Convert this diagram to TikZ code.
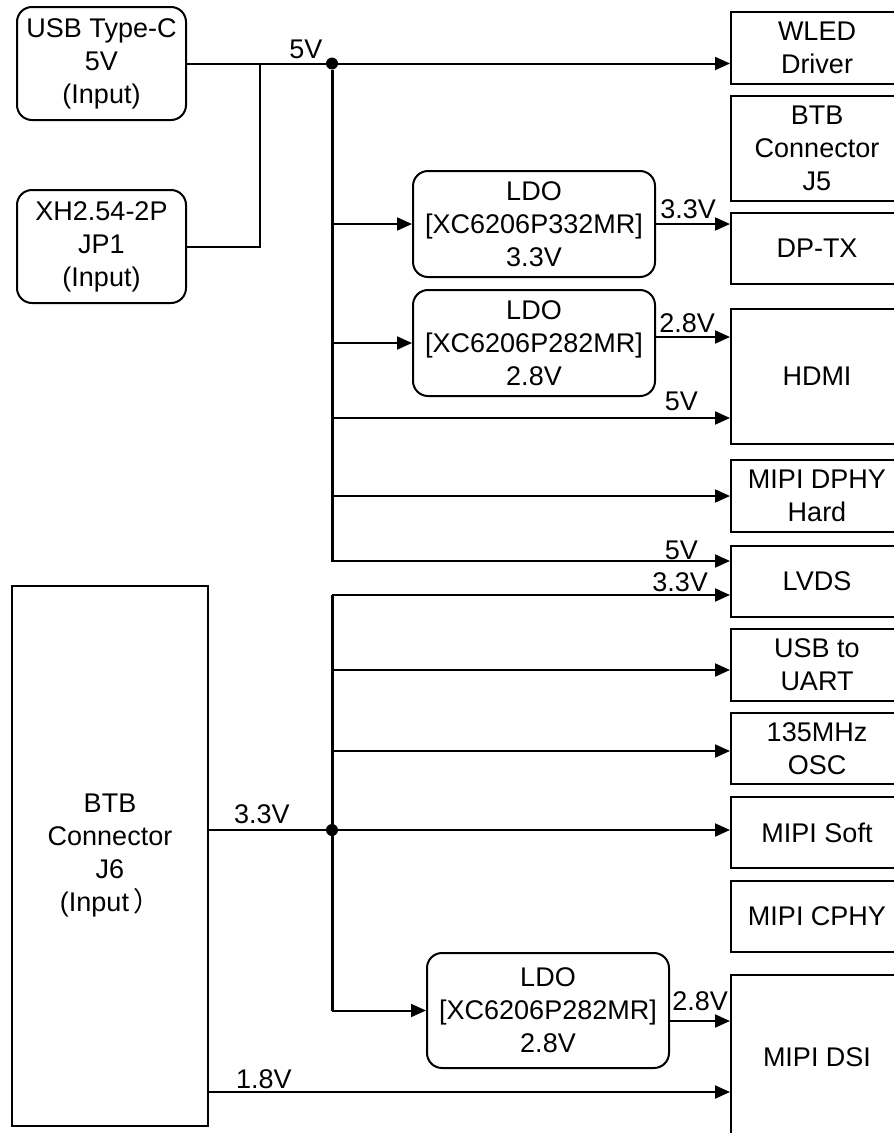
\documentclass[tikz,border=0pt]{standalone}
\usepackage{fontspec}
\setmainfont{Liberation Sans}
\newfontfamily\cjk{Noto Sans CJK SC}
\usetikzlibrary{arrows.meta, positioning, calc}

\begin{document}
\begin{tikzpicture}[
    x=1pt, y=-1pt,
    font=\fontsize{27}{33}\selectfont,
    src/.style={rectangle, draw, rounded corners=15pt, line width=2pt, align=center, inner sep=0pt},
    ldo/.style={src, minimum width=242pt},
    load/.style={rectangle, draw, line width=2pt, align=center, inner sep=0pt, minimum width=172pt},
    junction/.style={circle, fill, inner sep=0pt, minimum size=12pt},
    wire/.style={line width=2pt},
    trunk/.style={line width=3pt},
    arrow/.style={-{Triangle[length=15pt, width=13pt]}, line width=2pt},
    volt/.style={inner sep=0pt}
]
\useasboundingbox (0,0) rectangle (894,1133);

% Inputs
\node[src, minimum width=169pt, minimum height=113pt] (usb) at (101.5,63.5) {USB Type-C\\5V\\(Input)};
\node[src, minimum width=169pt, minimum height=113pt] (jp1) at (101.5,246.5) {XH2.54-2P\\JP1\\(Input)};
\node[load, minimum width=196pt, minimum height=540pt] (j6) at (110,856) {BTB\\Connector\\J6\\(Input\kern4pt{\cjk ）}};

% LDOs
\node[ldo, minimum height=106pt] (ldoA) at (534,224) {LDO\\ {[XC6206P332MR]}\\3.3V};
\node[ldo, minimum height=106pt] (ldoB) at (534,343) {LDO\\ {[XC6206P282MR]}\\2.8V};
\node[ldo, minimum height=115pt] (ldoC) at (548,1010.5) {LDO\\ {[XC6206P282MR]}\\2.8V};

% Loads
\node[load, minimum height=72pt] (wled) at (817,48) {WLED\\Driver};
\node[load, minimum height=105pt] (j5) at (817,148.5) {BTB\\Connector\\J5};
\node[load, minimum height=71pt] (dptx) at (817,248.5) {DP-TX};
\node[load, minimum height=135pt] (hdmi) at (817,376.5) {HDMI};
\node[load, minimum height=72pt] (dphy) at (817,496) {MIPI DPHY\\Hard};
\node[load, minimum height=71pt] (lvds) at (817,581.5) {LVDS};
\node[load, minimum height=72pt] (uart) at (817,665) {USB to\\UART};
\node[load, minimum height=71pt] (osc) at (817,748.5) {135MHz\\OSC};
\node[load, minimum height=71pt] (soft) at (817,832.5) {MIPI Soft};
\node[load, minimum height=71pt] (cphy) at (817,916.5) {MIPI CPHY};
\node[load, minimum height=165pt] (dsi) at (817,1057.5) {MIPI DSI};

% Junctions and pins
\node[junction] (dot5) at (332,63.5) {};
\node[junction] (dot3) at (332,830) {};
\coordinate (ldoBout) at ([yshift=6pt]ldoB.east);
\coordinate (ldoCout) at ([yshift=-10.5pt]ldoC.east);
\coordinate (hdmiB) at ([yshift=-41.5pt]hdmi.west);
\coordinate (lvdsA) at ([yshift=20.5pt]lvds.west);
\coordinate (lvdsB) at ([yshift=-13.5pt]lvds.west);
\coordinate (uartA) at ([yshift=-5pt]uart.west);
\coordinate (oscA) at ([yshift=-2.5pt]osc.west);
\coordinate (dsiB) at ([yshift=-34.5pt]dsi.west);

% 5V rail
\draw[wire] (usb.east) -- (dot5) node[volt, at end, anchor=base east, xshift=-2.5pt, yshift=5.5pt] {5V};
\draw[wire] (jp1.east) -| ($(usb.east)!0.5!(dot5)$);
\draw[arrow] (dot5) -- (dot5 -| wled.west);
\draw[arrow] (dot5) |- (lvdsA) node[volt, anchor=base east, xshift=-31pt, yshift=2pt] {5V};
\draw[trunk] (dot5) -- (dot5 |- lvdsA);
\draw[arrow] (dot5 |- ldoA.west) -- (ldoA.west);
\draw[arrow] (ldoA.east) -- (ldoA.east -| dptx.west) node[volt, anchor=base east, xshift=-13pt, yshift=6pt] {3.3V};
\draw[arrow] (dot5 |- ldoB.west) -- (ldoB.west);
\draw[arrow] (ldoBout) -- (ldoBout -| hdmi.west) node[volt, anchor=base east, xshift=-14pt, yshift=5pt] {2.8V};
\draw[arrow] (dot5 |- hdmiB) -- (hdmiB) node[volt, anchor=base east, xshift=-31pt, yshift=8pt] {5V};
\draw[arrow] (dot5 |- dphy.west) -- (dphy.west);

% 3.3V rail
\draw[wire] (j6.east |- dot3) -- (dot3) node[volt, pos=0, anchor=base west, xshift=24pt, yshift=7pt] {3.3V};
\draw[trunk] (dot3 |- lvdsB) -- (dot3 |- ldoC.west);
\draw[arrow] (dot3 |- lvdsB) -- (lvdsB) node[volt, anchor=base east, xshift=-21pt, yshift=4pt] {3.3V};
\draw[arrow] (dot3 |- uartA) -- (uartA);
\draw[arrow] (dot3 |- oscA) -- (oscA);
\draw[arrow] (dot3) -- (dot3 -| soft.west);
\draw[arrow] (dot3 |- ldoC.west) -- (ldoC.west);
\draw[arrow] (ldoCout) -- (ldoCout -| dsi.west) node[volt, anchor=base east, xshift=-1pt, yshift=11pt] {2.8V};

% 1.8V
\draw[arrow] (dsiB -| j6.east) -- (dsiB) node[volt, pos=0, anchor=base west, xshift=26pt, yshift=4pt] {1.8V};

\end{tikzpicture}
\end{document}
